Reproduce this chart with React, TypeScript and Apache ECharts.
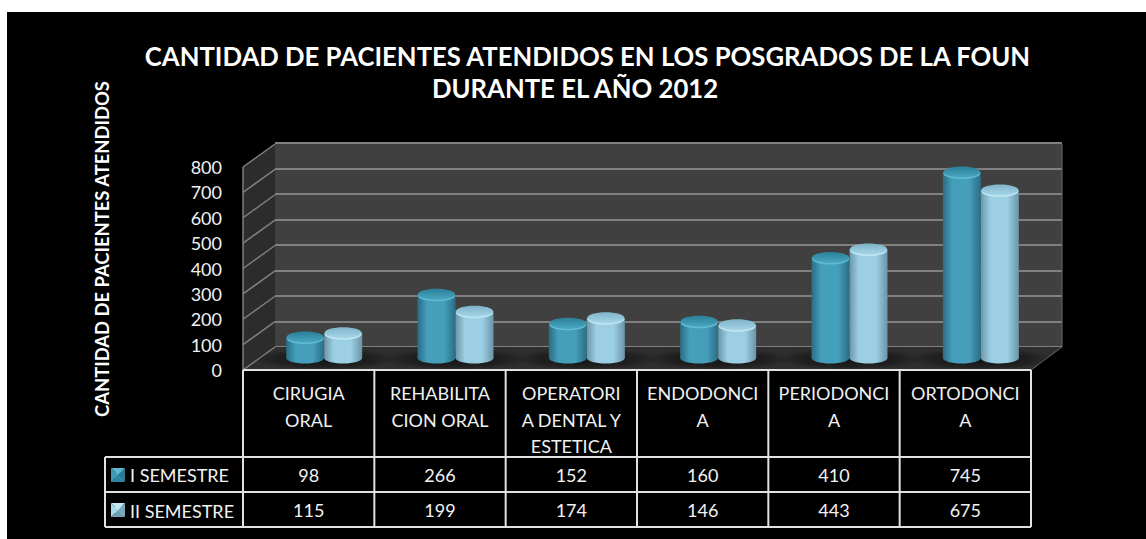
import React, { useEffect, useRef } from "react";
import * as echarts from "echarts";

const titleText = "CANTIDAD DE PACIENTES ATENDIDOS EN LOS POSGRADOS DE LA FOUN\nDURANTE EL AÑO 2012    ";
const yAxisTitle = "CANTIDAD DE PACIENTES ATENDIDOS";
const categories = [
  "CIRUGIA\nORAL",
  "REHABILITA\nCION ORAL",
  "OPERATORI\nA DENTAL Y\nESTETICA",
  "ENDODONCI\nA",
  "PERIODONCI\nA",
  "ORTODONCI\nA",
];
const seriesNames = ["I SEMESTRE", "II SEMESTRE"];
const semester1 = [98, 266, 152, 160, 410, 745];
const semester2 = [115, 199, 174, 146, 443, 675];
const yTicks = [0, 100, 200, 300, 400, 500, 600, 700, 800];

const FONT = "Lato";
const FRONT = { l: 243, r: 1031, t: 167, b: 370 };
const BACK = { l: 275, r: 1062, t: 143, b: 347 };
const BARS = { l: 258.5, r: 1046.5, t: 158, b: 362 };
const DX = BACK.l - FRONT.l;
const DY = FRONT.b - BACK.b;
const ROWS = [457, 492, 527];
const TABLE_LEFT = 105;
const COL = (FRONT.r - FRONT.l) / categories.length;

const palettes = [
  {
    edge: "#2a6c84", mid: "#459fba", topA: "#2b7f99", topB: "#4aa6bf", rim: "#62bcd3",
    key: ["#5fb5cc", "#2f86a0", "#3f9ab6", "#2b7a94"],
  },
  {
    edge: "#6b95a9", mid: "#9ccfe4", topA: "#7fb3c8", topB: "#a5d6e8", rim: "#c0e6f3",
    key: ["#c5e7f3", "#6f9db2", "#a8d8ea", "#79a8bc"],
  },
];

function cylinder(idx: number, sign: number) {
  const p = palettes[idx];
  return (params: any, api: any) => {
    const w = 38;
    const c = api.coord([api.value(0), api.value(1)]);
    const zero = api.coord([api.value(0), 0]);
    const x = c[0] + (sign * w) / 2 - w / 2;
    const cx = x + w / 2;
    const topY = c[1];
    const baseY = zero[1] - 4;
    const ry = 5.5;
    const grad = new echarts.graphic.LinearGradient(0, 0, 1, 0, [
      { offset: 0, color: p.edge },
      { offset: 0.25, color: p.mid },
      { offset: 0.7, color: p.mid },
      { offset: 1, color: p.edge },
    ]);
    const children: any[] = [];
    if (idx === 0) {
      children.push({
        type: "ellipse",
        shape: { cx: cx + w / 2, cy: baseY + 1, rx: 72, ry: 11 },
        style: {
          fill: new echarts.graphic.RadialGradient(0.5, 0.5, 0.5, [
            { offset: 0, color: "rgba(0,0,0,0.6)" },
            { offset: 0.7, color: "rgba(0,0,0,0.3)" },
            { offset: 1, color: "rgba(0,0,0,0)" },
          ]),
        },
      });
    }
    children.push(
      { type: "ellipse", shape: { cx, cy: baseY, rx: w / 2, ry }, style: { fill: grad } },
      { type: "rect", shape: { x, y: topY, width: w, height: Math.max(baseY - topY, 0) }, style: { fill: grad } },
      { type: "ellipse", shape: { cx, cy: topY + 1.5, rx: w / 2 - 0.5, ry }, style: { fill: p.rim } },
      {
        type: "ellipse",
        shape: { cx, cy: topY, rx: w / 2 - 0.5, ry },
        style: {
          fill: new echarts.graphic.LinearGradient(0, 0, 0, 1, [
            { offset: 0, color: p.topA },
            { offset: 1, color: p.topB },
          ]),
        },
      }
    );
    return { type: "group", children };
  };
}

function renderWalls(params: any, api: any) {
  const v = api.value(1);
  const p = api.coord([0, v]);
  const left = FRONT.l;
  const children: any[] = [];
  if (params.dataIndex === 0) {
    const top = api.coord([0, yTicks[yTicks.length - 1]])[1];
    const bot = p[1];
    children.push(
      {
        type: "polygon",
        shape: { points: [[left, bot], [left + DX, bot - DY], [left + DX, top - DY], [left, top]] },
        style: { fill: "#2c2c2c" },
      },
      {
        type: "polygon",
        shape: { points: [[left, bot], [left + DX, bot - DY], [BACK.r, bot - DY], [FRONT.r, bot]] },
        style: { fill: "#2e2e2e" },
      },
      { type: "line", shape: { x1: left, y1: bot, x2: left, y2: top }, style: { stroke: "#7f7f7f", lineWidth: 1.5 } },
      { type: "line", shape: { x1: FRONT.r, y1: bot, x2: BACK.r, y2: bot - DY }, style: { stroke: "#6a6a6a", lineWidth: 1 } },
      { type: "line", shape: { x1: BACK.r, y1: bot - DY, x2: BACK.r, y2: top - DY }, style: { stroke: "#6a6a6a", lineWidth: 1 } }
    );
  }
  children.push({
    type: "line",
    shape: { x1: left, y1: p[1], x2: left + DX, y2: p[1] - DY },
    style: { stroke: "#7f7f7f", lineWidth: 1.5 },
  });
  return { type: "group", children };
}

function tableGraphics() {
  const out: any[] = [];
  const stroke = { stroke: "#e2e2e2", lineWidth: 2 };
  const hline = (y: number, x1: number, x2: number) =>
    out.push({ type: "line", z: 20, shape: { x1, y1: y, x2, y2: y }, style: stroke });
  const vline = (x: number, y1: number, y2: number) =>
    out.push({ type: "line", z: 20, shape: { x1: x, y1, x2: x, y2 }, style: stroke });
  hline(FRONT.b, FRONT.l, FRONT.r);
  ROWS.forEach((y) => hline(y, TABLE_LEFT, FRONT.r));
  vline(TABLE_LEFT, ROWS[0], ROWS[2]);
  categories.forEach((_, i) => vline(FRONT.l + i * COL, FRONT.b, ROWS[2]));
  vline(FRONT.r, FRONT.b, ROWS[2]);
  [semester1, semester2].forEach((vals, r) => {
    vals.forEach((v, i) => {
      out.push({
        type: "text",
        z: 21,
        style: {
          text: String(v),
          x: FRONT.l + (i + 0.5) * COL,
          y: (ROWS[r] + ROWS[r + 1]) / 2,
          align: "center",
          verticalAlign: "middle",
          fill: "#f2f2f2",
          font: `18px ${FONT}`,
        },
      });
    });
    // bevelled legend key
    const x = 111, y = ROWS[r] + 11, s = 14, c = s / 2;
    const k = palettes[r].key;
    const tris = [
      [[x, y], [x + s, y], [x + c, y + c]],
      [[x, y + s], [x + s, y + s], [x + c, y + c]],
      [[x, y], [x, y + s], [x + c, y + c]],
      [[x + s, y], [x + s, y + s], [x + c, y + c]],
    ];
    tris.forEach((pts, t) =>
      out.push({ type: "polygon", z: 21, shape: { points: pts }, style: { fill: k[t] } })
    );
  });
  return out;
}

const hiddenX = (gridIndex: number) => ({
  type: "category" as const,
  gridIndex,
  data: categories,
  show: false,
});

export default function App() {
  const ref = useRef<HTMLDivElement>(null);
  useEffect(() => {
    const chart = echarts.init(ref.current!, undefined, { renderer: "svg" });
    chart.setOption({
      animation: false,
      backgroundColor: "transparent",
      title: {
        text: titleText,
        left: 582.5,
        top: 35,
        textAlign: "center",
        textStyle: { color: "#fff", fontFamily: FONT, fontWeight: "bold", fontSize: 25.7, lineHeight: 32 },
      },
      legend: {
        orient: "vertical",
        left: 110,
        top: ROWS[0] + 4,
        itemWidth: 10,
        itemHeight: 10,
        itemGap: 18,
        icon: "rect",
        selectedMode: false,
        data: seriesNames,
        textStyle: { color: "#f2f2f2", fontFamily: FONT, fontSize: 18 },
      },
      grid: [
        { left: FRONT.l, top: FRONT.t, width: FRONT.r - FRONT.l, height: FRONT.b - FRONT.t },
        {
          left: BACK.l,
          top: BACK.t,
          width: BACK.r - BACK.l,
          height: BACK.b - BACK.t,
          show: true,
          backgroundColor: "#404040",
          borderWidth: 0,
        },
        { left: BARS.l, top: BARS.t, width: BARS.r - BARS.l, height: BARS.b - BARS.t },
      ],
      xAxis: [
        {
          type: "category",
          gridIndex: 0,
          data: categories,
          axisLine: { show: false },
          axisTick: { show: false },
          axisLabel: {
            interval: 0,
            margin: 10,
            color: "#f2f2f2",
            fontFamily: FONT,
            fontSize: 18,
            lineHeight: 26.5,
            verticalAlign: "top",
            align: "center",
          },
        },
        hiddenX(1),
        hiddenX(2),
      ],
      yAxis: [
        {
          type: "value",
          gridIndex: 0,
          min: 0,
          max: 800,
          interval: 100,
          axisLine: { show: false },
          axisTick: { show: false },
          splitLine: { show: false },
          axisLabel: { margin: 21, color: "#f2f2f2", fontFamily: FONT, fontSize: 18 },
        },
        {
          type: "value",
          gridIndex: 1,
          min: 0,
          max: 800,
          interval: 100,
          axisLine: { show: false },
          axisTick: { show: false },
          axisLabel: { show: false },
          splitLine: { show: true, lineStyle: { color: "#808080", width: 2 } },
          name: yAxisTitle,
          nameLocation: "middle",
          nameRotate: 90,
          nameGap: 164,
          nameTextStyle: {
            color: "#fff",
            fontFamily: FONT,
            fontWeight: "bold",
            fontSize: 18.4,
            padding: [0, 8, 0, 0],
          },
        },
        { type: "value", gridIndex: 2, min: 0, max: 800, interval: 100, show: false },
      ],
      graphic: tableGraphics(),
      series: [
        {
          type: "custom",
          name: "walls",
          xAxisIndex: 0,
          yAxisIndex: 0,
          z: 1,
          silent: true,
          encode: { x: 0, y: 1 },
          data: yTicks.map((t) => [0, t]),
          renderItem: renderWalls,
        },
        {
          type: "custom",
          name: seriesNames[0],
          xAxisIndex: 2,
          yAxisIndex: 2,
          z: 3,
          itemStyle: { color: palettes[0].mid },
          encode: { x: 0, y: 1 },
          data: semester1.map((v, i) => [i, v]),
          renderItem: cylinder(0, -1),
        },
        {
          type: "custom",
          name: seriesNames[1],
          xAxisIndex: 2,
          yAxisIndex: 2,
          z: 4,
          itemStyle: { color: palettes[1].mid },
          encode: { x: 0, y: 1 },
          data: semester2.map((v, i) => [i, v]),
          renderItem: cylinder(1, 1),
        },
      ],
    });
    return () => chart.dispose();
  }, []);
  return (
    <div style={{ position: "fixed", left: 0, top: 0, width: 1146, height: 539, background: "#fff", overflow: "hidden" }}>
      <div style={{ position: "absolute", left: 7, top: 12, width: 1139, height: 527, background: "#000" }} />
      <div ref={ref} style={{ position: "absolute", left: 0, top: 0, width: 1146, height: 539 }} />
    </div>
  );
}
